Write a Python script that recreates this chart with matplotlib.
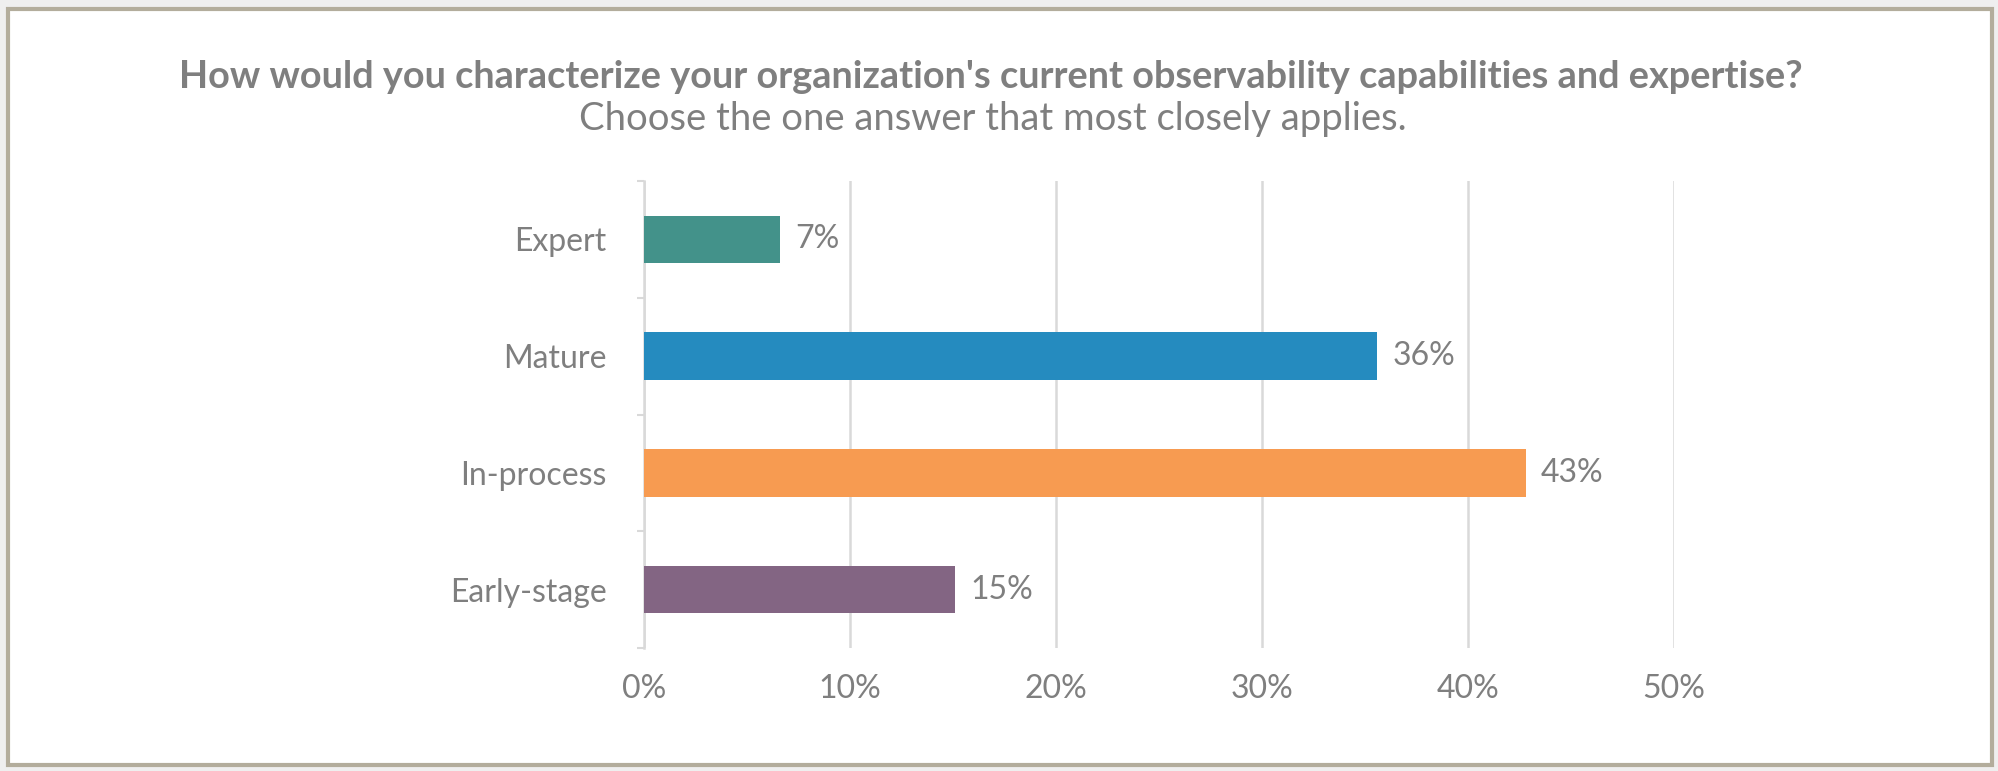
import matplotlib
matplotlib.use("Agg")
import matplotlib.pyplot as plt
from matplotlib.patches import Rectangle
from matplotlib.ticker import FixedLocator

# Survey answers (top to bottom in the chart)
categories = ["Expert", "Mature", "In-process", "Early-stage"]
values = [6.6, 35.6, 42.8, 15.1]
value_labels = ["7%", "36%", "43%", "15%"]
bar_colors = ["#43928a", "#258bbf", "#f79b51", "#836583"]
x_ticks = [0, 10, 20, 30, 40, 50]
x_tick_labels = ["0%", "10%", "20%", "30%", "40%", "50%"]

title = "How would you characterize your organization's current observability capabilities and expertise?"
subtitle = "Choose the one answer that most closely applies."

plt.rcParams["font.family"] = ["Lato", "DejaVu Sans"]
text_gray = "#7f7f7f"
grid_gray = "#d9d9d9"

fig = plt.figure(figsize=(19.99, 7.71), dpi=100)
fig.patch.set_facecolor("#efefef")

# white card with the thin beige frame (behind the axes)
card = Rectangle((8 / 1999, 1 - 765 / 771), 1984 / 1999, 756 / 771,
                 transform=fig.transFigure, facecolor="white",
                 edgecolor="#b3ad9c", linewidth=3, zorder=-5)
fig.patches.append(card)

ax = fig.add_axes([644 / 1999, 1 - 648 / 771, 1030 / 1999, 467 / 771])
ax.set_facecolor("none")

y_pos = list(range(len(categories)))[::-1]
ax.barh(y_pos, values, height=0.405, color=bar_colors, zorder=3)

for y, v, lab in zip(y_pos, values, value_labels):
    ax.annotate(lab, (v, y), xytext=(11, 0), textcoords="offset points",
                va="center", ha="left", fontsize=23, color=text_gray)

ax.set_xlim(0, 50)
ax.set_ylim(-0.5, len(categories) - 0.5)

ax.set_xticks(x_ticks)
ax.set_xticklabels(x_tick_labels)
ax.set_yticks(y_pos)
ax.set_yticklabels(categories)
ax.yaxis.set_minor_locator(FixedLocator([-0.5, 0.5, 1.5, 2.5, 3.5]))

ax.tick_params(axis="x", length=0, pad=19, labelsize=23, labelcolor=text_gray)
ax.tick_params(axis="y", which="major", length=0, pad=27, labelsize=23, labelcolor=text_gray)
ax.tick_params(axis="y", which="minor", length=5, width=1.5, color=grid_gray)

ax.grid(axis="x", color=grid_gray, linewidth=1.8, zorder=0)
for side in ["top", "right", "bottom"]:
    ax.spines[side].set_visible(False)
ax.spines["left"].set_color(grid_gray)
ax.spines["left"].set_linewidth(1.8)

fig.text(0.4955, 1 - 88 / 771, title, ha="center", va="baseline",
         fontsize=27.3, fontweight="bold", color=text_gray)
fig.text(0.4965, 1 - 130 / 771, subtitle, ha="center", va="baseline",
         fontsize=27.5, fontweight="normal", color=text_gray)

fig.savefig("out.png", dpi=100, facecolor=fig.get_facecolor())
